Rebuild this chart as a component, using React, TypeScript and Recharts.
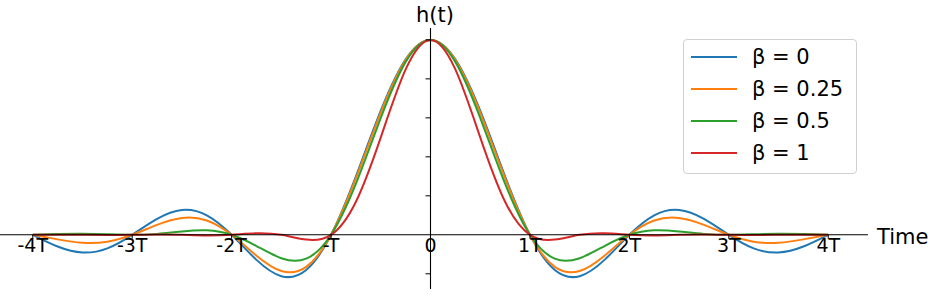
import React from 'react';
import { LineChart, Line, XAxis, YAxis, ReferenceLine } from 'recharts';

// sample times (in units of T)
const times = [
  -4, -3.75, -3.5, -3.25, -3, -2.75, -2.5, -2.25, -2, -1.75, -1.5, -1.25, -1, -0.75, -0.5, -0.25,
  0, 0.25, 0.5, 0.75, 1, 1.25, 1.5, 1.75, 2, 2.25, 2.5, 2.75, 3, 3.25, 3.5, 3.75, 4,
];

// h(t), one list per roll-off factor
const beta0 = [
  0, -0.06, -0.0909, -0.0693, 0, 0.0818, 0.1273, 0.1, 0, -0.1286, -0.2122, -0.1801, 0, 0.3001, 0.6366, 0.9003,
  1, 0.9003, 0.6366, 0.3001, 0, -0.1801, -0.2122, -0.1286, 0, 0.1, 0.1273, 0.0818, 0, -0.0693, -0.0909, -0.06, 0,
];
const beta025 = [
  0, -0.0234, -0.0407, -0.0351, 0, 0.0511, 0.0866, 0.0735, 0, -0.1071, -0.1856, -0.1642, 0, 0.2904, 0.6274, 0.897,
  1, 0.897, 0.6274, 0.2904, 0, -0.1642, -0.1856, -0.1071, 0, 0.0735, 0.0866, 0.0511, 0, -0.0351, -0.0407, -0.0234, 0,
];
const beta05 = [
  0, 0.0043, 0.0057, 0.0028, 0, 0.0048, 0.0172, 0.0228, 0, -0.0576, -0.12, -0.1225, 0, 0.2625, 0.6002, 0.8872,
  1, 0.8872, 0.6002, 0.2625, 0, -0.1225, -0.12, -0.0576, 0, 0.0228, 0.0172, 0.0048, 0, 0.0028, 0.0057, 0.0043, 0,
];
const beta1 = [
  0, 0.0008, 0, -0.0012, 0, 0.002, 0, -0.0037, 0, 0.0081, 0, -0.0243, 0, 0.1698, 0.5, 0.8488,
  1, 0.8488, 0.5, 0.1698, 0, -0.0243, 0, 0.0081, 0, -0.0037, 0, 0.002, 0, -0.0012, 0, 0.0008, 0,
];

const xTicks = [-4, -3, -2, -1, 0, 1, 2, 3, 4];
const xTickLabels = ['-4T', '-3T', '-2T', '-T', '0', '1T', '2T', '3T', '4T'];
const yTicks = [-0.2, 0.2, 0.4, 0.6, 0.8, 1.0];

const series = [
  { key: 'b0', name: 'β = 0', color: '#1f77b4' },
  { key: 'b025', name: 'β = 0.25', color: '#ff7f0e' },
  { key: 'b05', name: 'β = 0.5', color: '#2ca02c' },
  { key: 'b1', name: 'β = 1', color: '#d62728' },
];

const data = times.map((t, i) => ({
  t,
  b0: beta0[i],
  b025: beta025[i],
  b05: beta05[i],
  b1: beta1[i],
}));

const WIDTH = 953;
const HEIGHT = 298;
const MARGIN = { top: 28, right: 77, left: 0, bottom: 8 };
const Y_AXIS_W = 1;
const X_AXIS_H = 1;
const X_MIN = -4.4;
const X_MAX = 4.4;
const Y_MIN = -0.278;
const Y_MAX = 1.061;
const PLOT_W = WIDTH - MARGIN.left - MARGIN.right - Y_AXIS_W;
const PLOT_H = HEIGHT - MARGIN.top - MARGIN.bottom - X_AXIS_H;
// where the spines cross (axes drawn through the origin)
const ZERO_X = MARGIN.left + Y_AXIS_W + (PLOT_W * (0 - X_MIN)) / (X_MAX - X_MIN);
const ZERO_Y = MARGIN.top + (PLOT_H * (Y_MAX - 0)) / (Y_MAX - Y_MIN);

const FONT = '"DejaVu Sans", sans-serif';

// eslint-disable-next-line @typescript-eslint/no-explicit-any
const XTick = (props: any) => {
  const { x, payload } = props;
  const label = xTickLabels[xTicks.indexOf(payload.value)];
  return (
    <g>
      <line x1={x} x2={x} y1={ZERO_Y} y2={ZERO_Y + 4} stroke="#000" strokeWidth={1} />
      <text x={x} y={ZERO_Y + 17} textAnchor="middle" fontSize={19} fontFamily={FONT} fill="#000">
        {label}
      </text>
    </g>
  );
};

// eslint-disable-next-line @typescript-eslint/no-explicit-any
const YTick = (props: any) => {
  const { y } = props;
  return <line x1={ZERO_X - 5} x2={ZERO_X} y1={y} y2={y} stroke="#000" strokeWidth={1} />;
};

function LegendBox() {
  return (
    <div
      style={{
        position: 'absolute',
        left: 683,
        top: 39,
        width: 172,
        border: '1px solid #d0d0d0',
        borderRadius: 4,
        background: 'rgba(255,255,255,0.8)',
        padding: '1px 0 4px 0',
        fontFamily: FONT,
        fontSize: 21,
        color: '#000',
      }}
    >
      {series.map((s) => (
        <div key={s.key} style={{ display: 'flex', alignItems: 'center', height: 32 }}>
          <div style={{ width: 46, height: 2, background: s.color, marginLeft: 7, marginRight: 15 }} />
          <span>{s.name}</span>
        </div>
      ))}
    </div>
  );
}

export default function App() {
  return (
    <div style={{ position: 'fixed', left: 0, top: 0, width: 945, height: 298, overflow: 'hidden', background: '#fff' }}>
      <div style={{ position: 'absolute', left: -8, top: 0 }}>
        <LineChart width={WIDTH} height={HEIGHT} data={data} margin={MARGIN}>
          <XAxis
            dataKey="t"
            type="number"
            domain={[X_MIN, X_MAX]}
            allowDataOverflow
            ticks={xTicks}
            interval={0}
            axisLine={false}
            tickLine={false}
            tick={XTick}
            height={X_AXIS_H}
          />
          <YAxis
            type="number"
            domain={[Y_MIN, Y_MAX]}
            allowDataOverflow
            ticks={yTicks}
            interval={0}
            axisLine={false}
            tickLine={false}
            tick={YTick}
            width={Y_AXIS_W}
          />
          {series.map((s) => (
            <Line
              key={s.key}
              type="natural"
              dataKey={s.key}
              name={s.name}
              stroke={s.color}
              strokeWidth={2}
              dot={false}
              activeDot={false}
              isAnimationActive={false}
            />
          ))}
          <ReferenceLine y={0} stroke="#000" strokeWidth={1.1} />
          <ReferenceLine x={0} stroke="#000" strokeWidth={1.1} />
        </LineChart>
      </div>
      <LegendBox />
      <svg width={945} height={298} style={{ position: 'absolute', left: 0, top: 0, pointerEvents: 'none' }}>
        <text x={435} y={22} textAnchor="middle" fontSize={21} fontFamily={FONT} fill="#000">
          h(t)
        </text>
        <text x={877} y={244} fontSize={21} fontFamily={FONT} fill="#000">
          Time
        </text>
      </svg>
    </div>
  );
}
